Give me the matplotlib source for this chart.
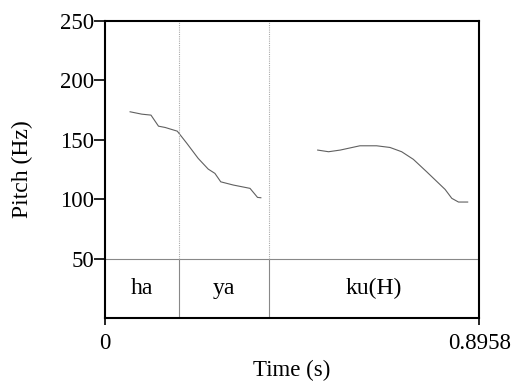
# Pitch contour with a segment tier (Praat-style picture)
import matplotlib
matplotlib.use("Agg")
import matplotlib.pyplot as plt

# Pitch contour, first voiced part (s, Hz)
t1 = [0.060, 0.088, 0.110, 0.128, 0.144, 0.173, 0.196, 0.223, 0.247,
      0.263, 0.277, 0.307, 0.347, 0.357, 0.365, 0.373]
f1 = [173.4, 171.4, 170.6, 161.3, 160.2, 157.1, 146.8, 134.2, 125.2,
      121.6, 114.5, 111.8, 109.0, 104.8, 101.4, 101.1]

# Pitch contour, second voiced part
t2 = [0.509, 0.535, 0.563, 0.610, 0.650, 0.682, 0.710, 0.738, 0.770,
      0.814, 0.830, 0.846, 0.868]
f2 = [141.2, 139.8, 141.2, 144.8, 144.8, 143.4, 139.8, 133.4, 122.9,
      108.1, 100.6, 97.5, 97.5]

# Segment tier
boundaries = [0.177, 0.3925]
labels = ["ha", "ya", "ku(H)"]
t_end = 0.8958

y_ticks = [50, 100, 150, 200, 250]

plt.rcParams["font.family"] = ["Liberation Serif", "DejaVu Serif"]

fig = plt.figure(figsize=(5.13, 3.81), dpi=100)
ax = fig.add_axes([0.2047, 0.1654, 0.7296, 0.7803])

ax.set_xlim(0, t_end)
ax.set_ylim(0, 250)

# Pitch curves
ax.plot(t1, f1, color="#606060", lw=0.8)
ax.plot(t2, f2, color="#606060", lw=0.8)

# Tier
ax.axhline(50, color="#888888", lw=0.8)
for b in boundaries:
    ax.plot([b, b], [0, 50], color="#888888", lw=0.8)
    ax.plot([b, b], [50, 250], color="#aaaaaa", lw=0.8, ls=(0, (1, 1)))

edges = [0] + boundaries + [t_end]
for i, lab in enumerate(labels):
    ax.text((edges[i] + edges[i + 1]) / 2, 25, lab, ha="center",
            va="center", fontsize=17)

for s in ax.spines.values():
    s.set_linewidth(1.5)

ax.set_yticks(y_ticks)
ax.set_yticklabels([str(v) for v in y_ticks])
ax.set_xticks([0, t_end])
ax.set_xticklabels(["0", "0.8958"])
ax.tick_params(axis="y", direction="out", length=8, width=1.2,
               labelsize=16.5, pad=0)
ax.tick_params(axis="x", direction="out", length=5, width=1.2,
               labelsize=16.5, pad=6)

ax.set_xlabel("Time (s)", fontsize=16.5, labelpad=4)
ax.set_ylabel("Pitch (Hz)", fontsize=17, labelpad=19)

fig.savefig("out.png", dpi=100)
